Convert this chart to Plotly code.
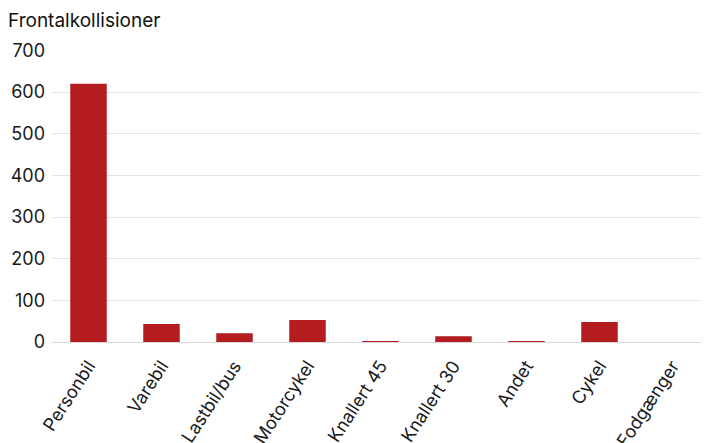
import plotly.graph_objects as go

categories = ["Personbil", "Varebil", "Lastbil/bus", "Motorcykel", "Knallert 45",
              "Knallert 30", "Andet", "Cykel", "Fodgænger"]
values = [620, 43, 21, 53, 1, 14, 1, 48, 0]

fig = go.Figure()
fig.add_trace(go.Bar(
    x=categories, y=values,
    marker=dict(color="#b41d1f", line=dict(width=0)),
    hovertemplate="%{x}: %{y}<extra></extra>",
))

fig.update_layout(
    width=701, height=435,
    margin=dict(l=44, r=0, t=42, b=101),
    paper_bgcolor="white", plot_bgcolor="white",
    font=dict(family="Inter", size=18, color="#1a1a1a"),
    title=dict(text="Frontalkollisioner", x=0.0, xanchor="left", y=0.972,
               yanchor="middle", font=dict(size=19, color="#111")),
    bargap=0.5,
    showlegend=False,
    xaxis=dict(tickangle=-57, showgrid=False, showline=False, ticks="",
               ticklabelstandoff=9, automargin=False),
    yaxis=dict(range=[0, 701], dtick=100, gridcolor="#e3e3e3", gridwidth=1,
               zeroline=True, zerolinecolor="#d9d9d9", zerolinewidth=1,
               ticks="", ticklabelstandoff=6, automargin=False),
)

fig.write_html("out.html")
